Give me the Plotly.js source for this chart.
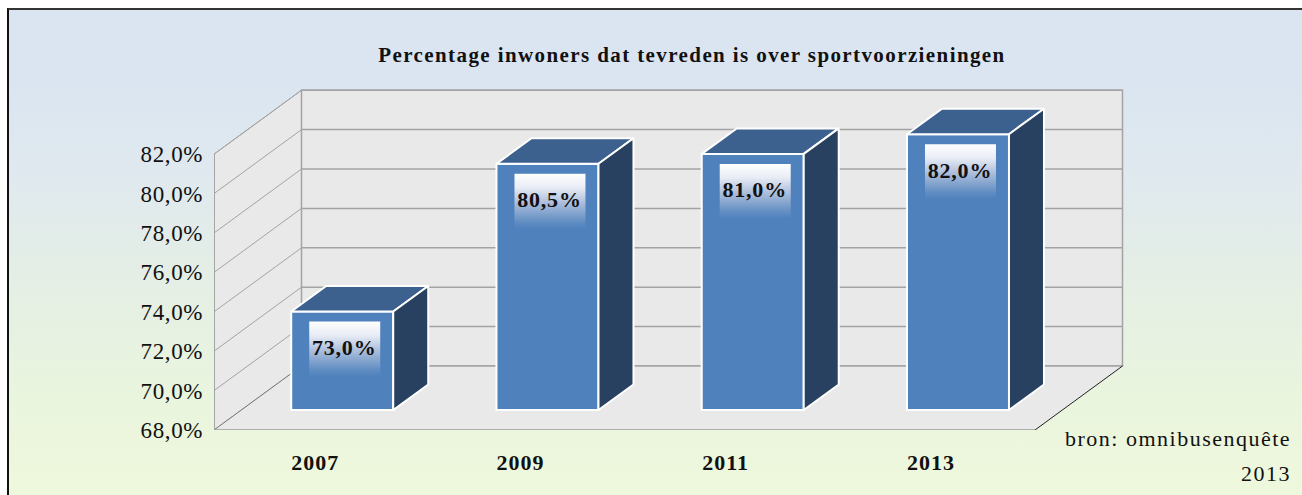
<!DOCTYPE html>
<html>
<head>
<meta charset="utf-8">
<script src="https://cdn.plot.ly/plotly-3.0.1.min.js"></script>
<style>
html,body{margin:0;padding:0;background:#fff;overflow:hidden}
#frame{position:absolute;left:7px;top:8px;width:1295px;height:487px;border-left:2px solid #111;border-top:2px solid #333;box-sizing:border-box;
background:linear-gradient(180deg,#dae5f1 0%,#dae5f1 14%,#e0e9ee 35%,#e5efe4 58%,#eaf5de 80%,#eef8dc 100%)}
#chart{position:absolute;left:0;top:0;width:1302px;height:495px}
.gtitle{letter-spacing:1.4px}
.xtick text{letter-spacing:1px}
.ytick text{letter-spacing:.6px}
.textpoint text{letter-spacing:.8px}
.annotation-text{letter-spacing:1.5px}
</style>
</head>
<body>
<div id="frame"></div>
<div id="chart"></div>
<script>
// ---- data ----
const years = ['2007','2009','2011','2013'];
const satisfied = [73.0,80.5,81.0,82.0];
const yTicks = [68,70,72,74,76,78,80,82];
const chartTitle = 'Percentage inwoners dat tevreden is over sportvoorzieningen';
const sourceLines = ['bron: omnibusenquête','2013'];

// ---- layout constants (pixels) ----
const W=1302,H=495, L=214, T=88, B=430, R=1130;
const pxX=205.25, pxY=19.7;           // px per category, px per percent point
const ux=p=>p/pxX, uy=p=>p/pxY;
const yMin=68;
const wallDX=ux(87.5), wallDY=uy(64);
const barShiftX=ux(25.6), barShiftY=uy(20);
const barW=ux(102), barDX=ux(35), barDY=uy(25.5);
const xEnd=years.length;
const FONT='"Liberation Serif", serif';

const shapes=[];
const poly=(pts)=>'M'+pts.map(p=>p[0]+','+p[1]).join('L')+'Z';
const wallFill='#e9e9e9', gridC='#a3a3a3';
// side wall, back wall, floor
shapes.push({type:'path',layer:'below',xref:'x',yref:'y',path:poly([[0,yMin],[0,82],[wallDX,82+wallDY],[wallDX,yMin+wallDY]]),fillcolor:wallFill,line:{color:gridC,width:1}});
shapes.push({type:'path',layer:'below',xref:'x',yref:'y',path:poly([[wallDX,yMin+wallDY],[wallDX,82+wallDY],[xEnd+wallDX,82+wallDY],[xEnd+wallDX,yMin+wallDY]]),fillcolor:wallFill,line:{color:gridC,width:1.5}});
shapes.push({type:'path',layer:'below',xref:'x',yref:'y',path:poly([[0,yMin],[xEnd,yMin],[xEnd+wallDX,yMin+wallDY],[wallDX,yMin+wallDY]]),fillcolor:wallFill,line:{width:0}});
yTicks.forEach(v=>{
  shapes.push({type:'line',layer:'below',xref:'x',yref:'y',x0:wallDX,x1:xEnd+wallDX,y0:v+wallDY,y1:v+wallDY,line:{color:gridC,width:1.5}});
  shapes.push({type:'line',layer:'below',xref:'x',yref:'y',x0:0,x1:wallDX,y0:v,y1:v+wallDY,line:{color:v===yMin?'#777':gridC,width:1}});
});
shapes.push({type:'line',layer:'below',xref:'x',yref:'y',x0:xEnd,x1:xEnd+wallDX,y0:yMin,y1:yMin+wallDY,line:{color:'#222',width:1}});

// ---- traces ----
const traces=[];
// front edges and ticks (drawn unclipped so they can sit on / outside the plot border)
const axisX=[0,0,null,0,xEnd], axisY=[yMin,82,null,yMin,yMin];
traces.push({type:'scatter',mode:'lines',x:axisX,y:axisY,line:{color:'#9a9a9a',width:1.5},hoverinfo:'skip',showlegend:false,cliponaxis:false});
const tickX=[],tickY=[];
for(let i=0;i<=xEnd;i++){tickX.push(i,i,null);tickY.push(yMin,yMin-uy(6),null);}
traces.push({type:'scatter',mode:'lines',x:tickX,y:tickY,line:{color:'#a3a3a3',width:1},hoverinfo:'skip',showlegend:false,cliponaxis:false});
const ytX=[],ytY=[];
yTicks.filter(v=>v!==82).forEach(v=>{ytX.push(-ux(6),0,null);ytY.push(v,v,null);});
traces.push({type:'scatter',mode:'lines',x:ytX,y:ytY,line:{color:'#a3a3a3',width:1},hoverinfo:'skip',showlegend:false,cliponaxis:false});

const centers=years.map((_,i)=>i+0.5+barShiftX);
const lefts=centers.map(c=>c-barW/2), rights=centers.map(c=>c+barW/2);
const tops=satisfied.map(v=>v+barShiftY), bot=yMin+barShiftY;
const edge={color:'#ffffff',width:2};

years.forEach((y,i)=>{
  const l=lefts[i],r=rights[i],t=tops[i];
  traces.push({type:'scatter',mode:'lines',x:[l,r,r+barDX,l+barDX,l],y:[t,t,t+barDY,t+barDY,t],fill:'toself',fillcolor:'#3c618e',line:edge,hoverinfo:'skip',showlegend:false,cliponaxis:false});
  traces.push({type:'scatter',mode:'lines',x:[r,r+barDX,r+barDX,r,r],y:[t,t+barDY,bot+barDY,bot,t],fill:'toself',fillcolor:'#284160',line:edge,hoverinfo:'skip',showlegend:false,cliponaxis:false});
});
traces.push({type:'bar',x:centers,y:satisfied.map(v=>v-yMin),base:yMin+barShiftY,width:barW,marker:{color:'#4f81bd',line:edge},showlegend:false,hoverinfo:'skip'});
// gradient label boxes
years.forEach((y,i)=>{
  const l=lefts[i]+ux(18),r=l+ux(71),t=tops[i]-uy(10),b=t-uy(55);
  traces.push({type:'scatter',mode:'lines',x:[l,r,r,l,l],y:[t,t,b,b,t],fill:'toself',line:{width:0},hoverinfo:'skip',showlegend:false,
    fillgradient:{type:'vertical',start:b,stop:t,colorscale:[[0,'rgba(79,129,189,1)'],[0.12,'rgba(96,141,194,1)'],[0.5,'rgba(178,194,222,1)'],[0.75,'rgba(232,236,245,1)'],[1,'rgba(255,255,255,1)']]}});
});
traces.push({type:'scatter',mode:'text',x:centers.map(c=>c+ux(2)),y:tops.map(t=>t-uy(38)),
  text:satisfied.map(v=>v.toFixed(1).replace('.',',')+'%'),textposition:'middle center',
  textfont:{family:FONT,size:22,color:'#111',weight:700},hoverinfo:'skip',showlegend:false,cliponaxis:false});

const layout={
  width:W,height:H,autosize:false,
  margin:{l:L,r:W-R,t:T,b:H-B,pad:0},
  paper_bgcolor:'rgba(0,0,0,0)',plot_bgcolor:'rgba(0,0,0,0)',
  showlegend:false,barmode:'overlay',
  title:{text:'<b>'+chartTitle+'</b>',font:{family:FONT,size:21,color:'#111'},x:692/W,xanchor:'center',y:1-55/H,yanchor:'middle'},
  xaxis:{range:[0,ux(R-L)],tickmode:'array',tickvals:years.map((_,i)=>i+0.5-ux(1.5)),ticktext:years.map(y=>'<b>'+y+'</b>'),
    ticks:'',showgrid:false,zeroline:false,showline:false,ticklabelstandoff:17,tickfont:{family:FONT,size:22,color:'#111'}},
  yaxis:{range:[yMin,yMin+(B-T)/pxY],tickmode:'array',tickvals:yTicks,ticktext:yTicks.map(v=>v.toFixed(1).replace('.',',')+'%'),
    ticks:'',showgrid:false,zeroline:false,showline:false,ticklabelstandoff:10,
    tickfont:{family:FONT,size:23,color:'#111'}},
  shapes:shapes,
  annotations:[
    {xref:'paper',yref:'paper',x:(1293-L)/(R-L),y:(B-438)/(B-T),xanchor:'right',yanchor:'middle',showarrow:false,text:sourceLines[0],font:{family:FONT,size:22,color:'#111'}},
    {xref:'paper',yref:'paper',x:(1293-L)/(R-L),y:(B-473)/(B-T),xanchor:'right',yanchor:'middle',showarrow:false,text:sourceLines[1],font:{family:FONT,size:22,color:'#111'}}
  ]
};
Plotly.newPlot('chart',traces,layout,{displayModeBar:false,staticPlot:true});
</script>
</body>
</html>
